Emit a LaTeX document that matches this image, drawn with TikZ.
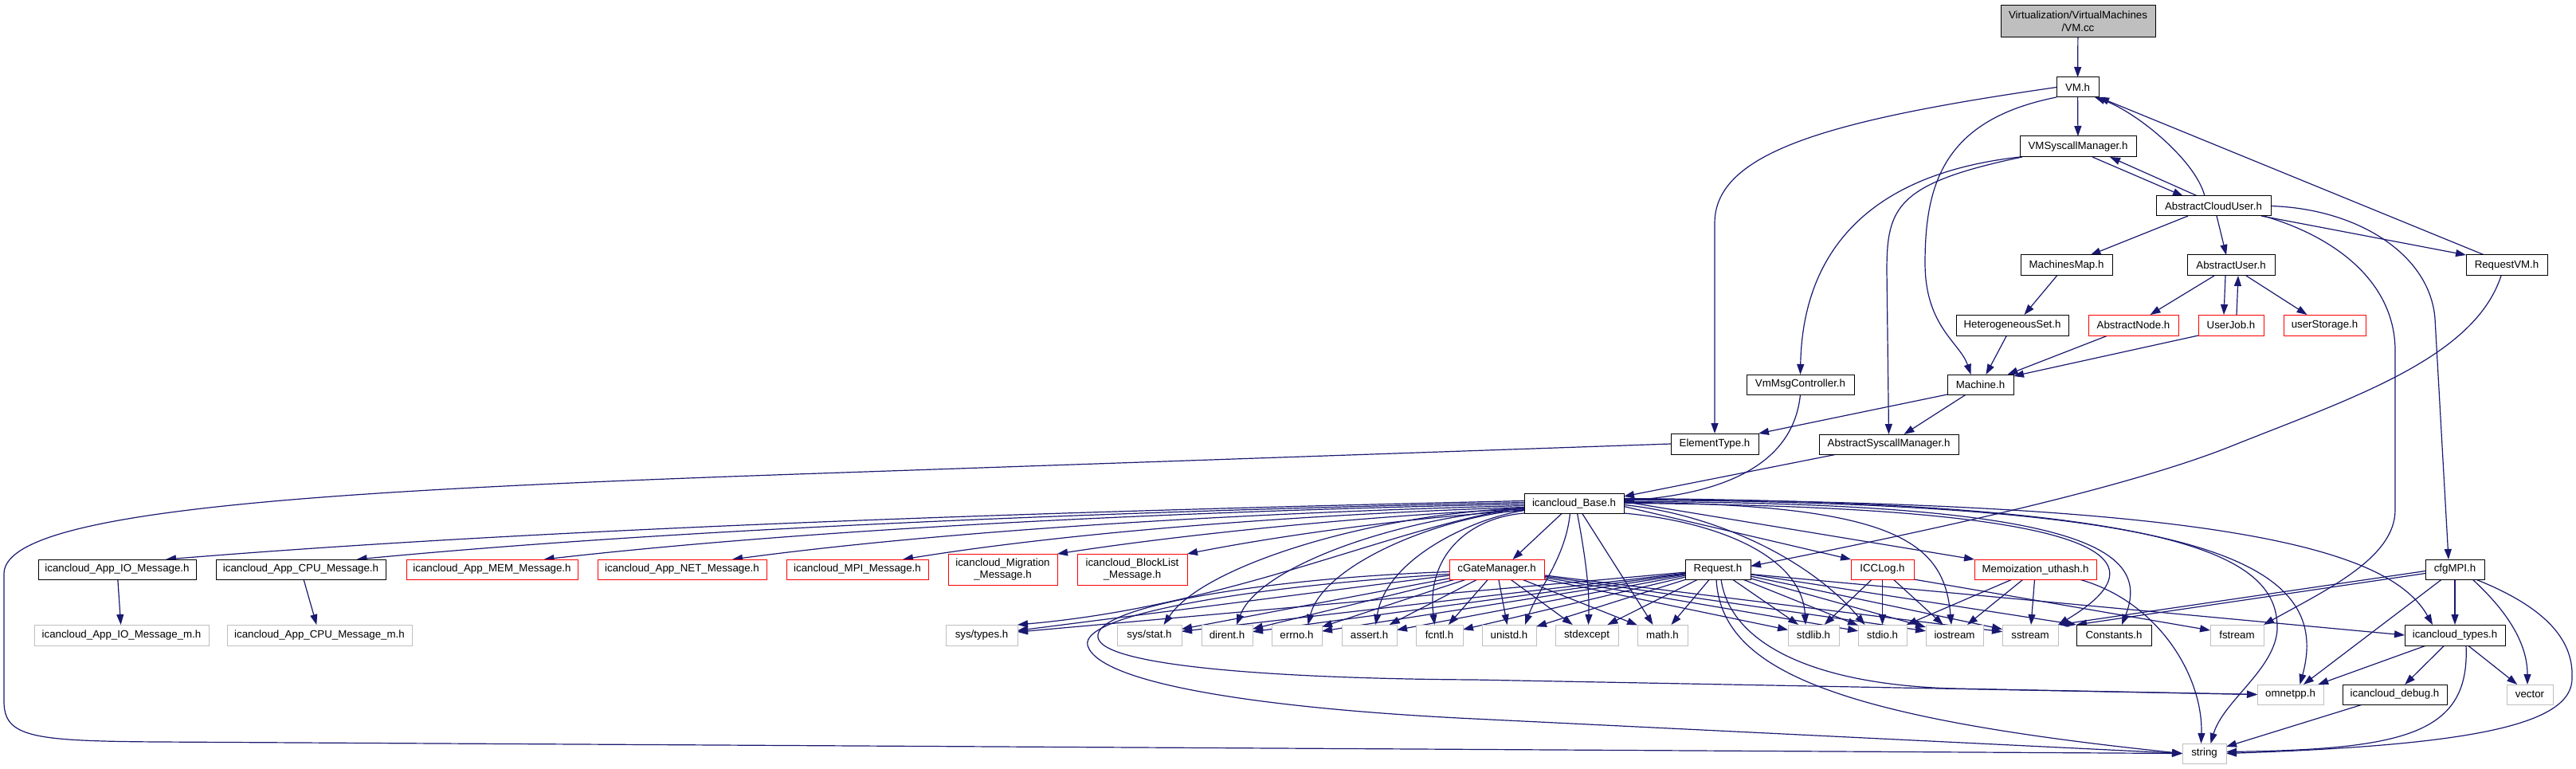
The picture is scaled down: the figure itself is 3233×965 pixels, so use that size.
\documentclass[tikz,border=0pt]{standalone}
\usepackage{fontspec}
\setmainfont{Liberation Sans}
\usetikzlibrary{arrows.meta}
\definecolor{ecol}{RGB}{25,25,112}
\definecolor{gbor}{RGB}{191,191,191}
\definecolor{rbor}{RGB}{255,0,0}
\definecolor{ccfill}{RGB}{191,191,191}
\pgfdeclarelayer{bg}
\pgfsetlayers{bg,main}
\newcommand\nf{\fontsize{13.3}{15.5}\selectfont}
\newcommand\nd[7]{\node[#6,minimum width={#3-#2},minimum height={#5-#4}] (#1) at ({(#2+#3)/2},{(#4+#5)/2}) {#7};}
\tikzset{
 nb/.style={draw=black,line width=1pt,fill=white,inner sep=0pt,outer sep=0pt,font=\nf,align=center},
 ng/.style={nb,draw=gbor},
 nr/.style={nb,draw=rbor},
 ncc/.style={nb,fill=ccfill},
 edg/.style={draw=ecol,line width=1.2pt,-{Triangle[length=13pt,width=9pt]}},
}
\begin{document}
\begin{tikzpicture}[x=1pt,y=-1pt]
\useasboundingbox (0,0) rectangle (3233,965);
\nd{vmcc}{2511}{2705}{7}{47}{ncc}{Virtualization/VirtualMachines\\/VM.cc}
\nd{vmh}{2581}{2634}{97}{122}{nb}{VM.h}
\nd{vmsys}{2535}{2681}{171}{197}{nb}{VMSyscallManager.h}
\nd{acu}{2706}{2850}{246}{271}{nb}{AbstractCloudUser.h}
\nd{mmap}{2536}{2651}{320}{346}{nb}{MachinesMap.h}
\nd{auser}{2745}{2855}{320}{346}{nb}{AbstractUser.h}
\nd{reqvm}{3095}{3197}{320}{346}{nb}{RequestVM.h}
\nd{hset}{2455}{2596}{395}{421}{nb}{HeterogeneousSet.h}
\nd{anode}{2621}{2734}{395}{421}{nr}{AbstractNode.h}
\nd{ujob}{2759}{2841}{395}{421}{nr}{UserJob.h}
\nd{ustor}{2866}{2969}{395}{421}{nr}{userStorage.h}
\nd{mach}{2444}{2527}{470}{495}{nb}{Machine.h}
\nd{vmmsg}{2192}{2327}{470}{495}{nb}{VmMsgController.h}
\nd{etype}{2097}{2207}{544}{570}{nb}{ElementType.h}
\nd{asys}{2283}{2458}{545}{570}{nb}{AbstractSyscallManager.h}
\nd{base}{1913}{2038}{619}{644}{nb}{icancloud\_Base.h}
\nd{io}{48}{246}{702}{727}{nb}{icancloud\_App\_IO\_Message.h}
\nd{cpu}{271}{484}{702}{727}{nb}{icancloud\_App\_CPU\_Message.h}
\nd{mem}{510}{725}{702}{727}{nr}{icancloud\_App\_MEM\_Message.h}
\nd{net}{750}{962}{702}{727}{nr}{icancloud\_App\_NET\_Message.h}
\nd{mpi}{987}{1165}{702}{727}{nr}{icancloud\_MPI\_Message.h}
\nd{mig}{1190}{1327}{695}{734}{nr}{icancloud\_Migration\\\_Message.h}
\nd{blk}{1352}{1490}{695}{734}{nr}{icancloud\_BlockList\\\_Message.h}
\nd{cgm}{1819}{1938}{702}{727}{nr}{cGateManager.h}
\nd{req}{2115}{2197}{702}{727}{nb}{Request.h}
\nd{icc}{2323}{2402}{702}{727}{nr}{ICCLog.h}
\nd{memo}{2478}{2631}{702}{727}{nr}{Memoization\_uthash.h}
\nd{cfg}{3044}{3118}{702}{727}{nb}{cfgMPI.h}
\nd{iom}{43}{262}{784}{810}{ng}{icancloud\_App\_IO\_Message\_m.h}
\nd{cpum}{285}{517}{784}{810}{ng}{icancloud\_App\_CPU\_Message\_m.h}
\nd{stypes}{1187}{1277}{784}{810}{ng}{sys/types.h}
\nd{sstat}{1402}{1483}{784}{810}{ng}{sys/stat.h}
\nd{dirent}{1508}{1572}{784}{810}{ng}{dirent.h}
\nd{errno}{1596}{1659}{784}{810}{ng}{errno.h}
\nd{assert}{1684}{1753}{784}{810}{ng}{assert.h}
\nd{fcntl}{1777}{1836}{784}{810}{ng}{fcntl.h}
\nd{unistd}{1860}{1928}{784}{810}{ng}{unistd.h}
\nd{stdexc}{1952}{2031}{784}{810}{ng}{stdexcept}
\nd{math}{2055}{2118}{784}{810}{ng}{math.h}
\nd{stdlib}{2244}{2308}{784}{810}{ng}{stdlib.h}
\nd{stdio}{2332}{2393}{784}{810}{ng}{stdio.h}
\nd{iostream}{2417}{2489}{784}{810}{ng}{iostream}
\nd{sstream}{2513}{2583}{784}{810}{ng}{sstream}
\nd{const}{2606}{2700}{784}{810}{nb}{Constants.h}
\nd{fstream}{2774}{2841}{784}{810}{ng}{fstream}
\nd{ictypes}{3018}{3144}{784}{810}{nb}{icancloud\_types.h}
\nd{omnet}{2833}{2916}{859}{884}{ng}{omnetpp.h}
\nd{icdbg}{2940}{3071}{859}{884}{nb}{icancloud\_debug.h}
\nd{vector}{3146}{3204}{859}{884}{ng}{vector}
\nd{string}{2739}{2794}{933}{958}{ng}{string}
\begin{pgfonlayer}{bg}
% top part
\draw[edg] (vmcc) -- (vmh);
\draw[edg] (vmh) -- (vmsys);
\draw[edg] (vmh.west) .. controls (2300,150) and (2152,190) .. (2152,280) -- (etype.north);
\draw[edg] (vmh.south west) .. controls (2440,150) and (2416,230) .. (2416,330) .. controls (2416,410) and (2460,430) .. ([xshift=-12pt]mach.north);
\draw[edg] ([xshift=18pt]vmsys.south) -- ([xshift=-38pt]acu.north);
\draw[edg] ([xshift=-20pt]acu.north) -- ([xshift=40pt]vmsys.south);
\draw[edg] ([xshift=-11pt]acu.north) .. controls (2755,200) and (2680,140) .. ([xshift=-5pt]vmh.south east);
\draw[edg] ([xshift=-28pt]reqvm.north) -- (vmh.south east);
\draw[edg] ([xshift=60pt]acu.south) -- (reqvm.north west);
\draw[edg] ([xshift=-32pt]acu.south) -- ([xshift=30pt]mmap.north);
\draw[edg] ([xshift=4pt]acu.south) -- ([xshift=-6pt]auser.north);
\draw[edg] ([xshift=63pt]acu.south) .. controls (2940,300) and (3006,360) .. (3006,440) -- (3006,640) .. controls (3006,700) and (2920,740) .. (fstream.north east);
\draw[edg] (acu.east) .. controls (2960,262) and (3050,320) .. (3056,400) -- ([xshift=-8pt]cfg.north);
\draw[edg] (vmsys.south west) .. controls (2330,220) and (2262,330) .. (vmmsg.north);
\draw[edg] ([xshift=3pt]vmsys.south west) .. controls (2380,230) and (2368,260) .. (2368,340) -- (asys.north);
\draw[edg] ([xshift=-12pt]mmap.south) -- ([xshift=15pt]hset.north);
\draw[edg] ([xshift=-7pt]hset.south) -- ([xshift=7pt]mach.north);
\draw[edg] ([xshift=-32pt]anode.south) -- ([xshift=34pt]mach.north);
\draw[edg] (ujob.south west) -- ([yshift=-2pt]mach.north east);
\draw[edg] ([xshift=-21pt]auser.south) -- ([xshift=21pt]anode.north);
\draw[edg] ([xshift=-7pt]auser.south) -- ([xshift=-9pt]ujob.north);
\draw[edg] ([xshift=7pt]ujob.north) -- ([xshift=9pt]auser.south);
\draw[edg] ([xshift=19pt]auser.south) -- ([xshift=-22pt]ustor.north);
\draw[edg] ([xshift=-18pt]mach.south) -- ([xshift=19pt]asys.north);
\draw[edg] (mach.south west) -- (etype.north east);
\draw[edg] ([xshift=-7pt]reqvm.south) .. controls (3105,450) and (2950,500) .. (2800,560) .. controls (2650,620) and (2350,680) .. ([yshift=4pt]req.east);
\draw[edg] (etype.west) -- (1000,595) .. controls (400,616) and (5,640) .. (5,720) -- (5,880) .. controls (5,925) and (40,930) .. (200,931) -- (string.west);
\draw[edg] (vmmsg.south) .. controls (2250,590) and (2150,620) .. ([yshift=3pt]base.east);
\draw[edg] ([xshift=-65pt]asys.south) -- ([yshift=-4pt]base.north east);
% base to messages
\draw[edg] ([yshift=3pt]base.west) .. controls (1401,640) and (720,660) .. ([xshift=61pt]io.north);
\draw[edg] ([yshift=1pt]base.west) .. controls (1473,640) and (887,660) .. ([xshift=70pt]cpu.north);
\draw[edg] ([yshift=-1pt]base.west) .. controls (1544,640) and (1052,660) .. ([xshift=65pt]mem.north);
\draw[edg] ([yshift=-3pt]base.west) .. controls (1615,642) and (1217,662) .. ([xshift=63pt]net.north);
\draw[edg] ([yshift=-5pt]base.west) .. controls (1679,644) and (1367,664) .. ([xshift=57pt]mpi.north);
\draw[edg] ([yshift=-7pt]base.west) .. controls (1737,646) and (1503,668) .. (mig.north east);
\draw[edg] ([yshift=-9pt]base.west) .. controls (1786,648) and (1617,670) .. (blk.north east);
\draw[edg] (io) -- (iom);
\draw[edg] (cpu) -- (cpum);
% base to std headers
\draw[edg] ([yshift=-5pt]base.west) .. controls (1750,660) and (1550,760) .. (stypes.north east);
\draw[edg] ([yshift=-6pt]base.west) .. controls (1720,645) and (1510,710) .. ([xshift=18pt]sstat.north);
\draw[edg] ([yshift=-7pt]base.west) .. controls (1760,648) and (1580,710) .. ([xshift=12pt]dirent.north);
\draw[edg] ([yshift=-8pt]base.west) .. controls (1800,650) and (1660,710) .. ([xshift=14pt]errno.north);
\draw[edg] ([yshift=-9pt]base.west) .. controls (1850,650) and (1740,700) .. ([xshift=8pt]assert.north);
\draw[edg] (base.south west) .. controls (1840,650) and (1790,700) .. ([xshift=-6pt]fcntl.north);
\draw[edg] ([xshift=-5pt]base.south) .. controls (1965,700) and (1930,740) .. ([xshift=20pt]unistd.north);
\draw[edg] ([xshift=4pt]base.south) .. controls (1990,700) and (1995,740) .. ([xshift=2pt]stdexc.north);
\draw[edg] ([xshift=10pt]base.south) -- ([xshift=-12pt]math.north);
\draw[edg] ([xshift=-15pt]base.south) -- ([xshift=20pt]cgm.north);
\draw[edg] (base.south east) .. controls (2160,655) and (2262,700) .. ([xshift=-10pt]stdlib.north);
\draw[edg] ([yshift=-4pt]base.east) -- (icc.north west);
\draw[edg] ([yshift=2pt]base.east) -- (memo.north west);
\draw[edg] ([yshift=-2pt]base.east) .. controls (2150,645) and (2270,700) .. ([xshift=-22pt]stdio.north);
\draw[edg] ([yshift=1pt]base.east) .. controls (2380,632) and (2440,680) .. ([xshift=-4pt]iostream.north);
\draw[edg] (base.east) .. controls (2600,635) and (2740,690) .. (sstream.north east);
\draw[edg] ([yshift=2pt]base.east) .. controls (2620,630) and (2700,690) .. ([xshift=10pt]const.north);
\draw[edg] ([yshift=4pt]base.east) .. controls (2750,630) and (2930,700) .. ([xshift=12pt]omnet.north);
\draw[edg] ([yshift=6pt]base.east) .. controls (2750,630) and (2860,700) .. (2858,790) .. controls (2855,840) and (2790,880) .. ([xshift=8pt]string.north);
\draw[edg] ([yshift=5pt]base.east) .. controls (2800,630) and (3000,690) .. ([xshift=-28pt]ictypes.north);
% cGateManager and Request
\foreach \tg in {stypes,sstat,dirent,errno,assert,fcntl,unistd,stdexc,math,stdlib,stdio,iostream,sstream} {\draw[edg] (cgm) -- (\tg);}
\foreach \tg in {stypes,sstat,dirent,errno,assert,fcntl,unistd,stdexc,math,stdlib,stdio,iostream,sstream} {\draw[edg] (req) -- (\tg);}
\draw[edg] (req) -- (const.north west);
\draw[edg] ([yshift=-6pt]req.east) -- (ictypes.west);
\draw[edg] ([xshift=4pt]req.south) .. controls (2170,800) and (2260,858) .. (2450,864) -- (omnet.west);
\draw[edg] ([xshift=-2pt]req.south) .. controls (2160,840) and (2300,900) .. (string.west);
\draw[edg] ([yshift=-3pt]cgm.west) .. controls (1600,725) and (1370,760) .. (1378,800) .. controls (1385,840) and (1650,852) .. (1850,853) -- (omnet.west);
\draw[edg] ([yshift=-6pt]cgm.west) .. controls (1580,735) and (1355,770) .. (1365,810) .. controls (1380,860) and (1600,890) .. (1850,902) -- (string.west);
% ICCLog, Memoization
\draw[edg] (icc) -- (stdlib);
\draw[edg] (icc) -- (stdio);
\draw[edg] (icc) -- (iostream);
\draw[edg] (icc.south east) -- ([yshift=6pt]fstream.west);
\draw[edg] (memo) -- (stdio);
\draw[edg] (memo) -- (iostream);
\draw[edg] (memo) -- (sstream);
\draw[edg] ([xshift=55pt]memo.south) .. controls (2710,755) and (2765,850) .. ([xshift=-4pt]string.north);
% cfgMPI, types, debug
\draw[edg] ([yshift=-2pt]cfg.west) -- (sstream.north east);
\draw[edg] ([yshift=-5pt]cfg.west) -- (const.north west);
\draw[edg] (cfg) -- (omnet);
\draw[edg] (cfg) -- (ictypes);
\draw[edg] ([xshift=22pt]cfg.south) .. controls (3150,770) and (3172,810) .. ([xshift=-3pt]vector.north);
\draw[edg] ([xshift=26pt]cfg.south) .. controls (3190,760) and (3230,800) .. (3228,850) .. controls (3230,910) and (3100,935) .. (string.east);
\draw[edg] (ictypes) -- (omnet);
\draw[edg] (ictypes) -- (icdbg);
\draw[edg] (ictypes) -- (vector);
\draw[edg] ([xshift=14pt]ictypes.south) .. controls (3100,920) and (3020,940) .. ([yshift=2pt]string.east);
\draw[edg] (icdbg) -- (string);
\end{pgfonlayer}
\end{tikzpicture}
\end{document}
